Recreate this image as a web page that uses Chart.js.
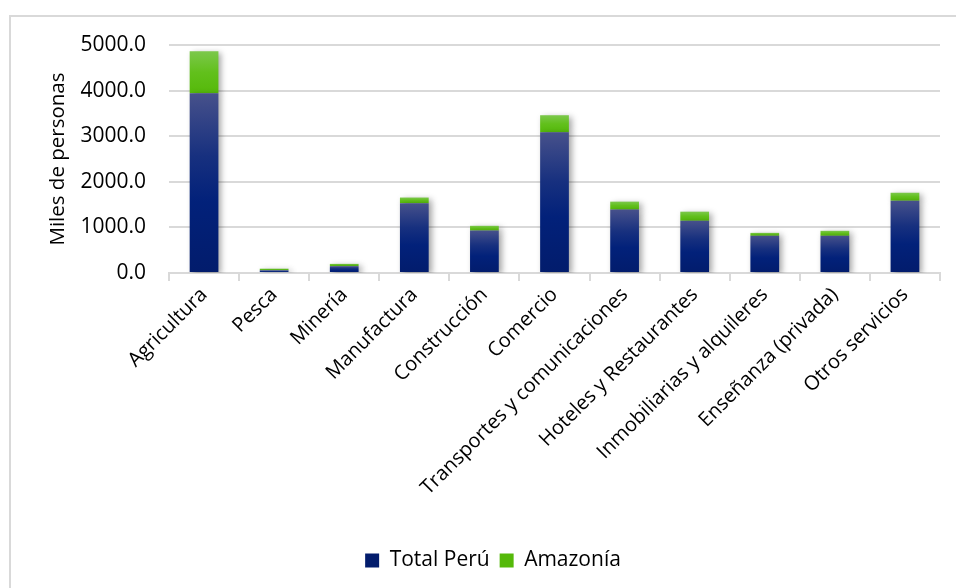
<!DOCTYPE html>
<html><head><meta charset="utf-8">
<script src="https://cdn.jsdelivr.net/npm/chart.js@4/dist/chart.umd.min.js"></script>
<style>
html,body{margin:0;padding:0;background:#fff;width:956px;height:588px;overflow:hidden}
#frame{position:absolute;left:9px;top:15px;width:980px;height:600px;border:2px solid #d9d9d9;box-sizing:border-box}
#wrap{position:absolute;left:0;top:0;width:956px;height:588px}
</style></head><body>
<div id="frame"></div>
<div id="wrap"><canvas id="c" width="956" height="588"></canvas></div>
<script>
const categories = ["Agricultura","Pesca","Minería","Manufactura","Construcción","Comercio","Transportes y comunicaciones","Hoteles y Restaurantes","Inmobiliarias y alquileres","Enseñanza (privada)","Otros servicios"];
const totalPeru = [3940, 60, 150, 1530, 930, 3085, 1390, 1145, 815, 815, 1585];
const amazonia = [925, 35, 50, 125, 105, 375, 175, 200, 65, 110, 175];
const yTicks = [0, 1000, 2000, 3000, 4000, 5000];
const seriesNames = ["Total Perú", "Amazonía"];

const FONT = "'Open Sans', sans-serif";

function segGradient(ctx, stops, solid) {
  if (ctx.type !== 'data') return solid;
  const chart = ctx.chart;
  const y = chart.scales.y;
  if (!y || !chart.chartArea) return solid;
  const i = ctx.dataIndex;
  let base = 0, top = 0;
  if (ctx.datasetIndex === 0) { base = 0; top = totalPeru[i]; }
  else { base = totalPeru[i]; top = totalPeru[i] + amazonia[i]; }
  const yTop = y.getPixelForValue(top), yBot = y.getPixelForValue(base);
  if (!isFinite(yTop) || !isFinite(yBot) || yBot - yTop < 0.5) return solid;
  const g = chart.ctx.createLinearGradient(0, yTop, 0, yBot);
  stops.forEach(s => g.addColorStop(s[0], s[1]));
  return g;
}

const shadowPlugin = {
  id: 'barShadow',
  beforeDatasetsDraw(chart) {
    const c = chart.ctx;
    c.save();
    c.shadowColor = 'rgba(0,0,0,0.35)';
    c.shadowBlur = 6;
    c.shadowOffsetX = 3;
    c.shadowOffsetY = 2;
  },
  afterDatasetsDraw(chart) { chart.ctx.restore(); }
};

new Chart(document.getElementById('c'), {
  type: 'bar',
  data: {
    labels: categories,
    datasets: [
      {
        label: seriesNames[0],
        data: totalPeru,
        backgroundColor: ctx => segGradient(ctx, [[0,'#47518b'],[0.35,'#17307f'],[0.6,'#02217a'],[1,'#021c6c']], '#0d2a7c'),
        borderWidth: 0
      },
      {
        label: seriesNames[1],
        data: amazonia,
        backgroundColor: ctx => segGradient(ctx, [[0,'#7cc84c'],[0.5,'#62c01c'],[1,'#55b90a']], '#5cbf14'),
        borderWidth: 0
      }
    ]
  },
  plugins: [shadowPlugin],
  options: {
    responsive: false,
    animation: false,
    devicePixelRatio: 1,
    categoryPercentage: 1,
    barPercentage: 0.41,
    layout: { padding: { top: 45, left: 46, right: 16, bottom: 7 } },
    plugins: {
      tooltip: { enabled: false },
      legend: {
        position: 'bottom',
        labels: {
          font: { family: FONT, size: 21 },
          color: '#000',
          boxWidth: 14,
          boxHeight: 14,
          padding: 10
        }
      }
    },
    scales: {
      x: {
        stacked: true,
        grid: { offset: true, drawOnChartArea: false, color: '#d9d9d9', lineWidth: 2, tickLength: 8 },
        border: { color: '#d9d9d9', width: 2 },
        ticks: { minRotation: 45, maxRotation: 45, autoSkip: false, font: { family: FONT, size: 20 }, color: '#000', padding: 2 },
        afterFit(s) { s.height = 267; }
      },
      y: {
        stacked: true,
        min: yTicks[0],
        max: yTicks[yTicks.length - 1],
        afterBuildTicks(s) { s.ticks = yTicks.map(v => ({ value: v })); },
        ticks: { callback: v => Number(v).toFixed(1), font: { family: FONT, size: 21 }, color: '#000', padding: 23 },
        grid: { color: '#d9d9d9', lineWidth: 2, drawTicks: false },
        border: { display: false },
        title: { display: true, text: 'Miles de personas', font: { family: FONT, size: 20.5 }, color: '#000', padding: 0 },
        afterFit(s) { s.width = 123; }
      }
    }
  }
});
</script>
</body></html>
